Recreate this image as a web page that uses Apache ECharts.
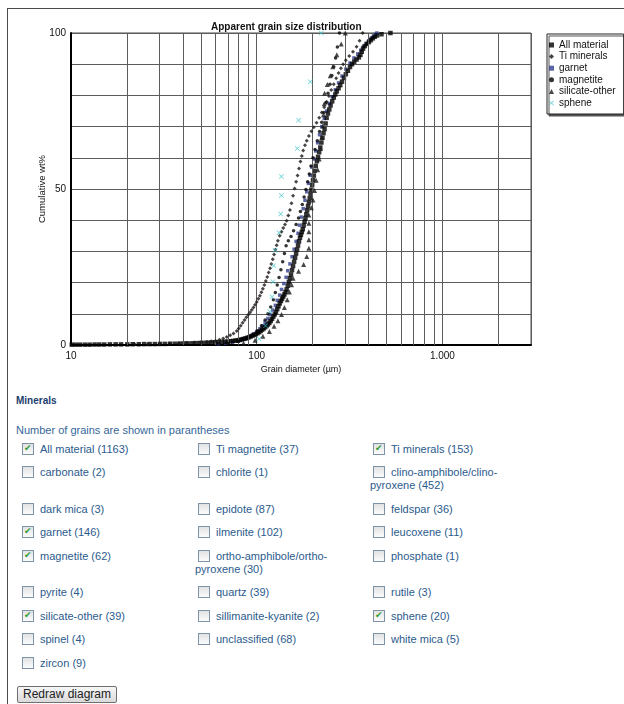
<!DOCTYPE html>
<html><head><meta charset="utf-8">
<script src="https://cdn.jsdelivr.net/npm/echarts@6/dist/echarts.min.js"></script>
<style>
html,body{margin:0;padding:0;background:#fff;width:624px;height:704px;overflow:hidden;font-family:"Liberation Sans",Arial,sans-serif;}
#frame{position:absolute;left:7px;top:8px;width:700px;height:760px;border-left:1.5px solid #4a4a4a;border-top:1.5px solid #4a4a4a;}
#chart{position:absolute;left:0;top:0;width:624px;height:380px;}
#head{position:absolute;left:16px;top:394px;font-size:10px;font-weight:bold;color:#1c3d6e;line-height:13px;}
#note{position:absolute;left:16px;top:423px;font-size:11px;color:#36679a;line-height:14px;}
#tbl{position:absolute;left:19px;top:437.6px;border-collapse:collapse;table-layout:fixed;}
#tbl td{padding:5px 0;line-height:13.4px;font-size:11px;color:#2b5b8d;white-space:nowrap;vertical-align:top;}
.cb{display:inline-block;width:10px;height:10px;border:1px solid #7f93a8;background:linear-gradient(#e2e2e2,#fbfbfb);vertical-align:-2px;margin:0 6px 0 3px;position:relative;}
.cb span{position:absolute;left:1px;top:-1px;font-size:9px;line-height:11px;color:#2f9a2f;font-family:"DejaVu Sans",sans-serif;}
#btn{position:absolute;left:17px;top:686px;width:98px;height:15px;border:1px solid #6f6f6f;border-radius:2px;background:linear-gradient(#f7f7f7,#dadada);font-size:12px;line-height:15px;color:#222;text-align:center;}
</style></head>
<body>
<div id="frame"></div>
<div id="chart"></div>
<div id="head">Minerals</div>
<div id="note">Number of grains are shown in parantheses</div>
<table id="tbl"></table>
<div id="btn">Redraw diagram</div>
<script>
// ---------- chart data (diameter µm, cumulative wt%) ----------
var allMaterial = [[10.1,0.1],[10.6,0.1],[11.2,0.1],[11.9,0.1],[12.6,0.1],[13.4,0.15],[14.2,0.15],[15.1,0.15],[16.2,0.2],[17.4,0.2],[18.6,0.2],[20.1,0.2],[21.5,0.25],[23.2,0.25],[24.8,0.3],[26.5,0.3],[28.3,0.3],[30.2,0.35],[32.1,0.35],[34.2,0.4],[36.3,0.4],[38.5,0.45],[40.6,0.5],[42.8,0.5],[45.1,0.55],[47.4,0.6],[49.8,0.65],[52.3,0.7],[54.7,0.75],[57.2,0.8],[59.8,0.85],[62.3,0.9],[64.9,1.0],[67.4,1.05],[69.8,1.1],[72.1,1.2],[74.5,1.3],[76.8,1.4],[79,1.5],[81,1.6],[83,1.8],[85,1.95],[87,2.1],[89,2.3],[91,2.5],[93,2.75],[95,3.0],[97,3.25],[99,3.5],[101,3.8],[103,4.1],[105,4.5],[107,4.9],[109,5.3],[111,5.7],[113,6.1],[115,6.6],[117,7.1],[119,7.7],[121,8.4],[123,9.1],[125,9.8],[127,10.6],[129,11.5],[131,12.4],[133,13.3],[135,14.1],[137,14.8],[139,15.5],[141,16.2],[143,17],[145,17.8],[147,19],[149,20.2],[151,21.4],[153,22.6],[155,24],[157,25.3],[159,26.7],[161,28],[163,29.3],[165,30.6],[167,31.9],[169,33.2],[171,34.4],[173,35.3],[175,36.2],[177,37.1],[179,38.3],[181,39.5],[183,40.7],[185,41.9],[187,43.2],[189,44.5],[191,45.8],[193,47.1],[195,48.5],[197,49.8],[199,51.3],[201,52.8],[203,54.3],[205,55.8],[208,57.4],[211,58.9],[214,60.3],[217,61.8],[220,63.3],[223,64.9],[226,66.4],[229,67.9],[232,69.2],[235,71],[238,72.8],[242,74.2],[246,75.5],[250,76.8],[255,78.1],[260,79.3],[265,80.3],[270,81.3],[276,82.3],[282,83.3],[288,84.4],[295,85.6],[302,86.8],[310,87.9],[318,89.1],[326,90],[335,90.8],[345,91.5],[355,92.2],[362,93],[368,94],[374,95],[382,95.8],[392,96.5],[402,97.1],[412,97.7],[422,98.3],[432,98.8],[445,99.2],[470,99.6],[525,100]];
var tiMinerals = [[22,0.3],[26,0.35],[30,0.45],[34,0.5],[38,0.6],[42,0.7],[46,0.8],[50,0.9],[54,1.0],[57,1.2],[60,1.4],[63,1.7],[66,2.1],[69,2.6],[72,3.1],[75,3.7],[78,4.5],[80,5.3],[82,6.2],[84,7.1],[86,8],[88,8.9],[90,9.7],[92,10.4],[94,11.2],[96,12],[98,12.9],[100,13.8],[102,14.8],[104,15.8],[106,16.9],[108,18],[110,19.2],[112,20.5],[114,21.8],[116,23.2],[118,24.6],[120,26],[122,27.5],[124,29],[126,30.5],[128,32],[130,33.4],[133,35],[136,36.3],[139,37.5],[142,38.6],[145,39.8],[148,41.5],[151,43.3],[154,45.4],[157,47.8],[160,50.2],[163,52.3],[166,54.3],[169,56.6],[172,58.8],[175,60.6],[178,62.3],[182,64],[186,65.5],[191,67],[197,68.5],[203,69.8],[210,71.2],[217,72.8],[224,74.5],[231,76.2],[238,78],[245,79.8],[252,81.7],[260,83.6],[268,85.5],[276,87.2],[284,88.7],[292,90],[302,91.3],[315,92.6],[330,94],[345,95.6],[358,97.5],[372,100]];
var garnet = [[62,0.4],[68,0.6],[74,0.9],[79,1.2],[84,1.7],[88,2.2],[92,2.8],[96,3.5],[100,4.3],[104,5.2],[108,6.2],[111,7.3],[115,8.5],[118,9.8],[122,11.2],[126,12.7],[129,14.3],[133,16],[136,17.8],[140,19.7],[144,21.7],[147,23.8],[151,26],[155,28.3],[159,30.7],[163,33.2],[167,35.8],[170,38.4],[174,41],[178,43.7],[182,46.4],[186,49.1],[190,51.8],[194,54.4],[198,57],[203,59.6],[208,62.2],[213,64.8],[218,67.4],[224,70],[231,72.6],[238,75],[246,77.4],[255,79.6],[265,81.8],[276,84],[288,86.2],[302,88.4],[318,90.4],[334,92],[350,93.3],[364,94.5],[376,95.6],[389,96.6],[401,97.5],[413,98.3],[425,99],[436,99.6],[444,100]];
var magnetite = [[70,0.5],[80,1.2],[88,2],[95,3.2],[101,4.6],[106,6.2],[111,8],[115,10],[119,12.2],[123,14.5],[126,16.8],[129,19.2],[132,21.6],[135,24.1],[138,26.7],[141,29.3],[144,31.8],[148,33.4],[153,34.8],[158,36.6],[163,38.6],[168,40.7],[172,42.8],[176,45],[180,47.4],[184,49.8],[188,52.3],[192,54.8],[196,57.4],[201,60],[206,62.7],[212,65.5],[218,68.4],[224,71.4],[230,74.5],[236,77.6],[242,80.7],[248,83.6],[254,86.4],[260,89.2],[266,92],[272,95.5],[279,100]];
var silicateOther = [[85,0.6],[98,1.5],[108,2.8],[117,4.3],[124,6],[130,7.8],[136,9.8],[141,12],[146,14.5],[150,17],[154,19.3],[157,21.4],[168,23.6],[179,25.8],[186,28.4],[191,31],[191,33.7],[191,36.3],[191,39],[191,41.7],[197,44],[201,46.5],[205,49.5],[209,52.8],[213,56.2],[217,59.6],[221,63],[224,66.6],[227,70.2],[229,73.8],[231,77.3],[232,80.7],[240,83.5],[249,86.3],[257,89.2],[270,93],[285,96.5],[300,100]];
var sphene = [[103,2],[111.7,6.2],[117.5,10.7],[120.9,15.5],[122.4,20.3],[123.4,25.4],[125.4,30.4],[131.7,36],[134.6,42],[135.8,47.9],[135.8,54],[165.6,63],[168.3,72],[194.4,84.4],[222.8,100]];

var seriesNames = ['All material','Ti minerals','garnet','magnetite','silicate-other','sphene'];
var xTickValues = [10,100,1000];
var xTickLabels = ['10','100','1.000'];
var xMinorGrid = [20,30,40,50,60,70,80,90,200,300,400,500,600,700,800,900,2000];
var yTickValues = [0,50,100];
var yTickLabels = ['0','50','100'];

// ---------- form data ----------
var mineralNames = ['All material','Ti magnetite','Ti minerals','carbonate','chlorite','clino-amphibole/clino-pyroxene','dark mica','epidote','feldspar','garnet','ilmenite','leucoxene','magnetite','ortho-amphibole/ortho-pyroxene','phosphate','pyrite','quartz','rutile','silicate-other','sillimanite-kyanite','sphene','spinel','unclassified','white mica','zircon'];
var grainCounts = [1163,37,153,2,1,452,3,87,36,146,102,11,62,30,1,4,39,3,39,2,20,4,68,5,9];
var checkedNames = ['All material','Ti minerals','garnet','magnetite','silicate-other','sphene'];

// build form table
(function(){
  var tbl = document.getElementById('tbl');
  var colW = [176,175,150];
  var html = '<colgroup>' + colW.map(function(w){return '<col style="width:'+w+'px">';}).join('') + '</colgroup>';
  for (var i=0;i<mineralNames.length;i+=3){
    html += '<tr>';
    for (var j=0;j<3;j++){
      var k=i+j;
      if (k>=mineralNames.length){ html += '<td></td>'; continue; }
      var nm = mineralNames[k];
      var label = (nm + ' (' + grainCounts[k] + ')').replace(/(\/[a-z]+-)/, '$1<br>');
      var chk = checkedNames.indexOf(nm) >= 0;
      html += '<td><span class="cb">' + (chk ? '<span>\u2714</span>' : '') + '</span>' + label + '</td>';
    }
    html += '</tr>';
  }
  tbl.innerHTML = html;
})();

var chart = echarts.init(document.getElementById('chart'), null, {renderer:'canvas'});
var xPath = 'path://M0,1L1,0L5,4L9,0L10,1L6,5L10,9L9,10L5,6L1,10L0,9L4,5Z';
var gridColor = '#5c5c5c';

function fmtX(v){
  for (var i=0;i<xTickValues.length;i++){ if (Math.abs(v-xTickValues[i])/xTickValues[i] < 1e-6) return xTickLabels[i]; }
  return '';
}
function fmtY(v){
  var i = yTickValues.indexOf(Math.round(v));
  return (i>=0 && Math.abs(v-yTickValues[i])<1e-6) ? yTickLabels[i] : '';
}

var option = {
  animation:false,
  backgroundColor:'transparent',
  textStyle:{fontFamily:'"Liberation Sans", Arial, sans-serif'},
  title:{text:'Apparent grain size distribution', left:206, top:17,
    textStyle:{fontSize:10, fontWeight:'bold', color:'#111', fontFamily:'"Liberation Sans", Arial, sans-serif'}},
  grid:{left:71, top:33, width:460, height:312, show:true, borderColor:'#4a4a4a', borderWidth:1, backgroundColor:'#fff'},
  legend:{
    orient:'vertical', left:547, top:34, itemWidth:5, itemHeight:5, itemGap:1.6,
    padding:[6,8,6,2], borderColor:'#222', borderWidth:1, backgroundColor:'#fff',
    shadowColor:'#555', shadowBlur:0, shadowOffsetX:2, shadowOffsetY:2,
    textStyle:{fontSize:10, color:'#111', lineHeight:10},
    data:[
      {name:seriesNames[0], icon:'rect'},
      {name:seriesNames[1], icon:'diamond'},
      {name:seriesNames[2], icon:'rect'},
      {name:seriesNames[3], icon:'circle'},
      {name:seriesNames[4], icon:'triangle'},
      {name:seriesNames[5], icon:xPath}
    ]
  },
  xAxis:{
    type:'log', logBase:10, min:10, max:3000,
    name:'Grain diameter (\u00b5m)', nameLocation:'middle', nameGap:20, nameMoveOverlap:false,
    nameTextStyle:{fontSize:9, color:'#111'},
    axisLine:{show:true, onZero:false, lineStyle:{color:'#000', width:2}},
    axisTick:{show:false},
    axisLabel:{formatter:fmtX, fontSize:10, color:'#111', margin:6, showMaxLabel:false},
    splitLine:{show:true, lineStyle:{color:gridColor, width:1}},
    minorTick:{show:false}, minorSplitLine:{show:false}
  },
  yAxis:{
    type:'value', min:0, max:100, interval:10,
    name:'Cumulative wt%', nameLocation:'middle', nameGap:24, nameRotate:90, nameMoveOverlap:false,
    nameTextStyle:{fontSize:9.5, color:'#111'},
    axisLine:{show:true, lineStyle:{color:'#000', width:2}},
    axisTick:{show:false},
    axisLabel:{formatter:fmtY, fontSize:10, color:'#111', margin:5},
    splitLine:{show:true, lineStyle:{color:gridColor, width:1}}
  },
  series:[
    {name:'_grid', type:'scatter', data:[], silent:true, z:1,
     markLine:{silent:true, symbol:['none','none'], label:{show:false},
       lineStyle:{color:gridColor, width:1, type:'solid'},
       emphasis:{disabled:true},
       data: xMinorGrid.map(function(v){return {xAxis:v};})}},
    {name:seriesNames[2], type:'scatter', data:garnet, symbol:'rect', symbolSize:3.5, itemStyle:{color:'#34408e'}, z:2},
    {name:seriesNames[0], type:'scatter', data:allMaterial, symbol:'rect', symbolSize:4.5, itemStyle:{color:'#000'}, z:3},
    {name:seriesNames[1], type:'scatter', data:tiMinerals, symbol:'diamond', symbolSize:4, itemStyle:{color:'#1a1414'}, z:5},
    {name:seriesNames[3], type:'scatter', data:magnetite, symbol:'circle', symbolSize:3.5, itemStyle:{color:'#000'}, z:5},
    {name:seriesNames[4], type:'scatter', data:silicateOther, symbol:'triangle', symbolSize:5, itemStyle:{color:'#1a1a1a'}, z:6},
    {name:seriesNames[5], type:'scatter', data:sphene, symbol:xPath, symbolSize:5, itemStyle:{color:'#3cc3c8'}, z:7}
  ]
};
chart.setOption(option);
</script>
</body></html>
